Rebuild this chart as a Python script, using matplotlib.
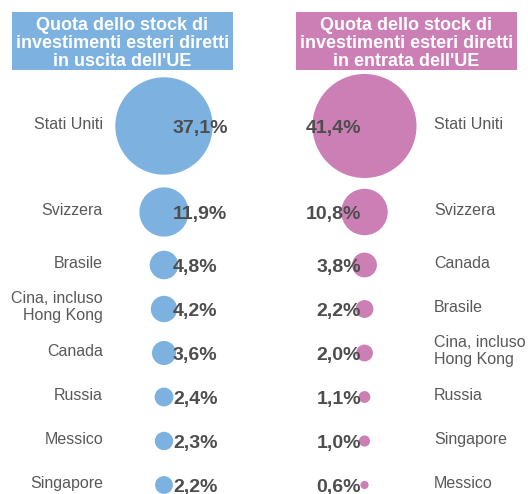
import matplotlib
matplotlib.use("Agg")
import matplotlib.pyplot as plt
from matplotlib.patches import Rectangle

plt.rcParams['font.family'] = ['Liberation Sans', 'DejaVu Sans']

# ---- data ----
title_out = "Quota dello stock di\ninvestimenti esteri diretti\nin uscita dell'UE"
title_in = "Quota dello stock di\ninvestimenti esteri diretti\nin entrata dell'UE"
countries_out = ['Stati Uniti', 'Svizzera', 'Brasile', 'Cina, incluso\nHong Kong',
                 'Canada', 'Russia', 'Messico', 'Singapore']
values_out = [37.1, 11.9, 4.8, 4.2, 3.6, 2.4, 2.3, 2.2]
countries_in = ['Stati Uniti', 'Svizzera', 'Canada', 'Brasile',
                'Cina, incluso\nHong Kong', 'Russia', 'Singapore', 'Messico']
values_in = [41.4, 10.8, 3.8, 2.2, 2.0, 1.1, 1.0, 0.6]

# ---- layout ----
W, H, DPI = 528, 494, 100
row_y = [126, 212, 265, 309, 353, 397, 441, 485]
blue = '#7db2e0'
pink = '#cc7fb5'
label_col = '#595959'
pct_col = '#4d4d4d'

fig = plt.figure(figsize=(W / DPI, H / DPI), dpi=DPI)
ax = fig.add_axes([0, 0, 1, 1])
ax.set_xlim(0, W)
ax.set_ylim(H, 0)
ax.axis('off')


def radius_px(v):
    return 5.57 * v ** 0.6


def size_pts2(v):
    d_pt = 2 * radius_px(v) * 72 / DPI
    return d_pt ** 2


def fmt(v):
    return f"{v:.1f}".replace('.', ',') + '%'


# title boxes
for (x0, x1, col, txt) in [(12, 233, blue, title_out), (296, 517, pink, title_in)]:
    ax.add_patch(Rectangle((x0, 12), x1 - x0, 58, facecolor=col, edgecolor='none', zorder=1))
    ax.text((x0 + x1) / 2, 43.5, txt, ha='center', va='center', multialignment='center',
            color='white', fontsize=13, fontweight='bold', linespacing=1.05, zorder=2)

# left panel
cx_l = 164
ax.scatter([cx_l] * len(values_out), row_y, s=[size_pts2(v) for v in values_out],
           color=blue, edgecolors='none', zorder=2)
for y, c, v in zip(row_y, countries_out, values_out):
    ax.text(103, y - 2, c, ha='right', va='center', multialignment='right',
            color=label_col, fontsize=11.5, linespacing=1.2, zorder=3)
    ax.text(173, y + 2, fmt(v), ha='left', va='center', color=pct_col,
            fontsize=14, fontweight='bold', zorder=3)

# right panel
cx_r = 364.5
ax.scatter([cx_r] * len(values_in), row_y, s=[size_pts2(v) for v in values_in],
           color=pink, edgecolors='none', zorder=2)
for y, c, v in zip(row_y, countries_in, values_in):
    ax.text(434, y - 2, c, ha='left', va='center', multialignment='left',
            color=label_col, fontsize=11.5, linespacing=1.2, zorder=3)
    ax.text(361, y + 2, fmt(v), ha='right', va='center', color=pct_col,
            fontsize=14, fontweight='bold', zorder=3)

fig.savefig('out.png', dpi=DPI)
